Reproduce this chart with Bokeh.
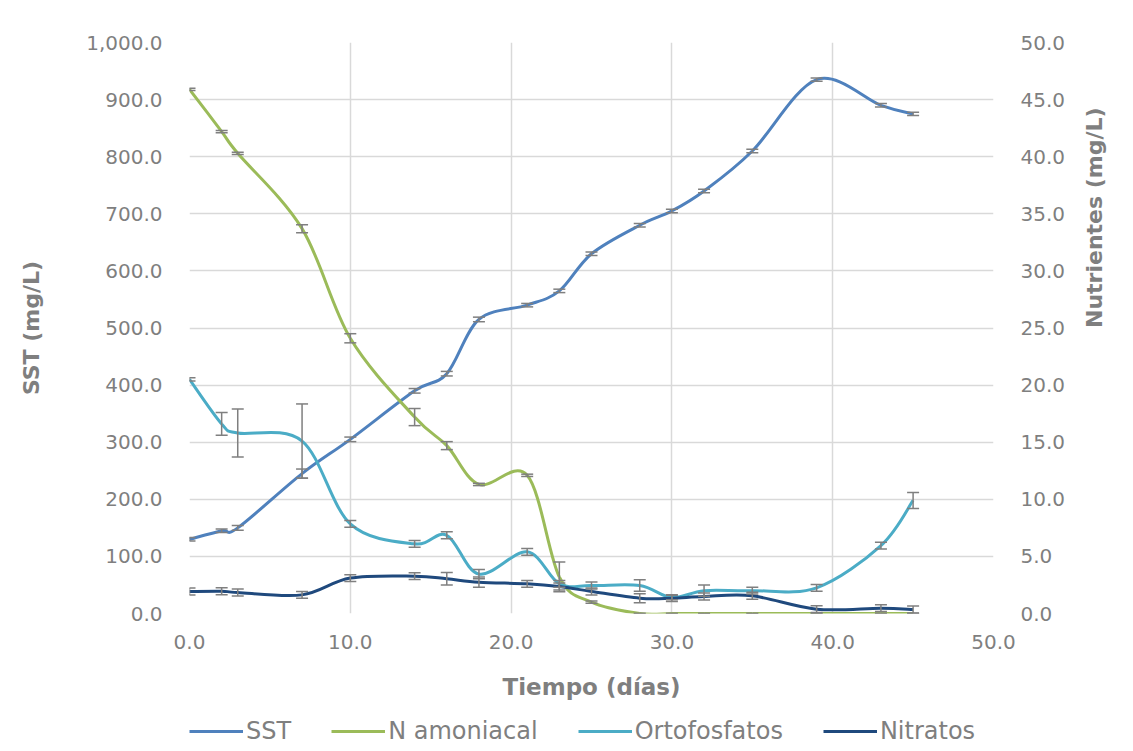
import math
import numpy as np
from bokeh.plotting import figure
from bokeh.layouts import column
from bokeh.models import (Range1d, LinearAxis, FixedTicker, NumeralTickFormatter,
                          Whisker, ColumnDataSource, Legend, LegendItem, TeeHead)
from bokeh.embed import file_html
from bokeh.resources import INLINE

# ---------------- data ----------------
days = [0, 2, 3, 7, 10, 14, 16, 18, 21, 23, 25, 28, 30, 32, 35, 39, 43, 45]
sst = [130, 145, 150, 245, 305, 390, 420, 515, 540, 565, 630, 680, 705, 740, 810, 935, 890, 875]
sst_err = [3, 3, 4, 8, 4, 4, 4, 4, 3, 3, 3, 3, 3, 3, 3, 3, 3, 3]
n_amon = [45.9, 42.2, 40.3, 33.7, 24.1, 17.2, 14.7, 11.3, 12.1, 3.2, 1.0, 0, 0, 0, 0, 0, 0, 0]
n_amon_err = [0.1, 0.1, 0.1, 0.35, 0.4, 0.75, 0.35, 0.1, 0.1, 1.3, 0.1, 0, 0, 0, 0, 0, 0, 0]
orto = [20.5, 16.6, 15.8, 15.1, 7.85, 6.1, 6.85, 3.45, 5.4, 2.6, 2.45, 2.45, 1.4, 2.0, 2.0, 2.25, 5.95, 9.9]
orto_err = [0.15, 1.0, 2.1, 3.25, 0.3, 0.3, 0.3, 0.4, 0.3, 0.3, 0.3, 0.5, 0.2, 0.5, 0.3, 0.3, 0.3, 0.7]
nitr = [1.93, 1.95, 1.84, 1.63, 3.1, 3.27, 3.04, 2.74, 2.6, 2.36, 1.93, 1.34, 1.34, 1.49, 1.55, 0.38, 0.47, 0.35]
nitr_err = [0.3, 0.3, 0.3, 0.3, 0.3, 0.3, 0.55, 0.45, 0.3, 0.3, 0.3, 0.4, 0.3, 0.3, 0.3, 0.3, 0.3, 0.3]

series_names = ["SST", "N amoniacal", "Ortofosfatos", "Nitratos"]
colors = ["#4F81BD", "#9BBB59", "#4BACC6", "#1F497D"]

x_ticks = [0, 10, 20, 30, 40, 50]
y_ticks = list(range(0, 1001, 100))
y2_ticks = [0, 5, 10, 15, 20, 25, 30, 35, 40, 45, 50]

FONT = "DejaVu Sans"
GRAY = "#7f7f7f"

p = figure(width=1117, height=713, frame_width=804, frame_height=571, output_backend="svg",
           toolbar_location=None, x_range=Range1d(0, 50), y_range=Range1d(0, 1000),
           min_border_left=189, min_border_right=124, min_border_top=42, min_border_bottom=0)
p.extra_y_ranges = {"nut": Range1d(0, 50)}
p.outline_line_color = None
p.background_fill_color = "white"
p.border_fill_color = "white"


def style_axis(ax):
    ax.axis_line_color = None
    ax.major_tick_line_color = None
    ax.minor_tick_line_color = None
    ax.major_tick_out = 0
    ax.major_tick_in = 0
    ax.minor_tick_out = 0
    ax.major_label_text_font = FONT
    ax.major_label_text_font_size = "20px"
    ax.major_label_text_color = GRAY
    ax.axis_label_text_font = FONT
    ax.axis_label_text_font_size = "22px"
    ax.axis_label_text_font_style = "bold"
    ax.axis_label_text_color = GRAY


xa = p.xaxis[0]
style_axis(xa)
xa.ticker = FixedTicker(ticks=x_ticks)
xa.formatter = NumeralTickFormatter(format="0.0")
xa.axis_label = "Tiempo (días)"
xa.axis_label_text_font_size = "23px"
xa.major_label_standoff = 21
xa.axis_label_standoff = 22

ya = p.yaxis[0]
style_axis(ya)
ya.ticker = FixedTicker(ticks=y_ticks)
ya.formatter = NumeralTickFormatter(format="0,0.0")
ya.axis_label = "SST (mg/L)"
ya.major_label_standoff = 27
ya.axis_label_standoff = 39

y2 = LinearAxis(y_range_name="nut")
style_axis(y2)
y2.ticker = FixedTicker(ticks=y2_ticks)
y2.formatter = NumeralTickFormatter(format="0.0")
y2.axis_label = "Nutrientes (mg/L)"
y2.major_label_standoff = 27
y2.axis_label_standoff = 26
if hasattr(y2, "axis_label_orientation"):
    y2.axis_label_orientation = math.pi / 2
p.add_layout(y2, "right")

p.xgrid.ticker = FixedTicker(ticks=x_ticks)
p.ygrid.ticker = FixedTicker(ticks=y_ticks)
p.xgrid.grid_line_color = "#d9d9d9"
p.ygrid.grid_line_color = "#d9d9d9"
p.xgrid.grid_line_width = 1.5
p.ygrid.grid_line_width = 1.5


def bezier_segments(x, y):
    x = np.asarray(x, float)
    y = np.asarray(y, float)
    n = len(x)
    qx = np.concatenate([[x[0]], x, [x[-1]]])
    qy = np.concatenate([[y[0]], y, [y[-1]]])
    return dict(
        x0=qx[1:n], y0=qy[1:n], x1=qx[2:n + 1], y1=qy[2:n + 1],
        cx0=qx[1:n] + (qx[2:n + 1] - qx[0:n - 1]) / 6.0,
        cy0=qy[1:n] + (qy[2:n + 1] - qy[0:n - 1]) / 6.0,
        cx1=qx[2:n + 1] - (qx[3:n + 2] - qx[1:n]) / 6.0,
        cy1=qy[2:n + 1] - (qy[3:n + 2] - qy[1:n]) / 6.0,
    )


all_series = [(sst, sst_err, "default"), (n_amon, n_amon_err, "nut"),
              (orto, orto_err, "nut"), (nitr, nitr_err, "nut")]

for (vals, errs, rng), name, col in zip(all_series, series_names, colors):
    seg = ColumnDataSource(bezier_segments(days, vals))
    p.bezier(x0="x0", y0="y0", x1="x1", y1="y1", cx0="cx0", cy0="cy0",
             cx1="cx1", cy1="cy1", source=seg, line_color=col, line_width=3,
             y_range_name=rng)
    v = np.asarray(vals, float)
    e = np.asarray(errs, float)
    src = ColumnDataSource(dict(x=days, upper=v + e, lower=v - e))
    w = Whisker(base="x", upper="upper", lower="lower", source=src,
                line_color=GRAY, line_width=1.5, y_range_name=rng, level="overlay",
                upper_head=TeeHead(size=12, line_color=GRAY, line_width=1.5),
                lower_head=TeeHead(size=12, line_color=GRAY, line_width=1.5))
    p.add_layout(w)

# ---------------- legend strip (separate small figure under the chart) ----------------
leg_fig = figure(width=1117, height=38, output_backend="svg", toolbar_location=None,
                 x_range=Range1d(-2, -1), y_range=Range1d(0, 1),
                 min_border_left=0, min_border_right=0, min_border_top=0, min_border_bottom=0)
leg_fig.axis.visible = False
leg_fig.grid.visible = False
leg_fig.outline_line_color = None
leg_fig.background_fill_color = "white"
leg_fig.border_fill_color = "white"

items = []
for (vals, errs, rng), name, col in zip(all_series, series_names, colors):
    # same series data, lying outside this strip's ranges: only the legend swatch shows
    r = leg_fig.line(x=days, y=vals, line_color=col, line_width=3)
    items.append(LegendItem(label=name, renderers=[r]))

legend = Legend(items=items, orientation="horizontal", location=(0, -5),
                label_text_font=FONT, label_text_font_size="24px",
                label_text_color=GRAY, glyph_width=54, glyph_height=20,
                label_standoff=3, spacing=40, padding=0, margin=0,
                border_line_color=None, background_fill_alpha=0)
leg_fig.add_layout(legend, "center")

layout = column(p, leg_fig, spacing=0)
open("out.html", "w").write(file_html(layout, INLINE))
